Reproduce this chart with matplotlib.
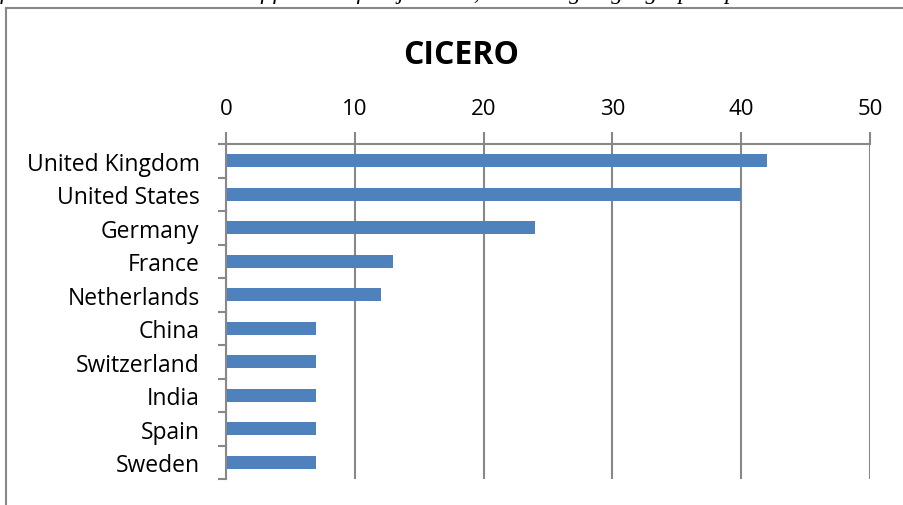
import matplotlib.pyplot as plt
import numpy as np

countries = ['United Kingdom', 'United States', 'Germany', 'France', 'Netherlands',
             'China', 'Switzerland', 'India', 'Spain', 'Sweden']
counts = [42, 40, 24, 13, 12, 7, 7, 7, 7, 7]
x_ticks = [0, 10, 20, 30, 40, 50]

W, H = 904, 506
fig = plt.figure(figsize=(W / 100, H / 100), dpi=100)
plt.rcParams['font.family'] = ['Open Sans', 'DejaVu Sans']

# caption line of the surrounding document, cut by the top edge as in the source
fig.text(0.0, 1 + 1 / H, 'for the main institutes list of factors of major data, according to geographic p',
         family='Liberation Serif', style='italic', fontsize=17, va='baseline', ha='left')

# chart frame (left and top edges visible)
fig.add_artist(plt.Line2D([6 / W, 6 / W], [0, 1 - 9 / H], color='#888888', lw=1.5))
fig.add_artist(plt.Line2D([6 / W, 1], [1 - 9 / H, 1 - 9 / H], color='#888888', lw=1.5))

ax = fig.add_axes([226 / W, 1 - 480 / H, (870 - 226) / W, (480 - 145) / H])
y = np.arange(len(countries))
ax.barh(y, counts, height=0.4, color='#4F81BD')
ax.set_ylim(len(countries) - 0.5, -0.5)
ax.set_xlim(0, 50)

ax.xaxis.tick_top()
ax.set_xticks(x_ticks)
ax.set_xticklabels([str(t) for t in x_ticks], fontsize=16)
ax.set_yticks(y)
ax.set_yticklabels(countries, fontsize=16.5)
ax.tick_params(axis='y', length=0, pad=19)
ax.tick_params(axis='x', length=9, color='#888888', width=1.5, pad=9)
ax.set_yticks(np.arange(len(countries) + 1) - 0.5, minor=True)
ax.tick_params(axis='y', which='minor', length=6, color='#888888', width=1.5)
ax.grid(axis='x', color='#888888', lw=1.5)
ax.set_axisbelow(True)

for s in ['right', 'bottom']:
    ax.spines[s].set_visible(False)
ax.spines['top'].set_color('#888888')
ax.spines['top'].set_linewidth(1.5)
ax.spines['left'].set_color('#888888')
ax.spines['left'].set_linewidth(1.5)

fig.text(461 / W, 1 - 56 / H, 'CICERO', fontsize=23, fontweight='bold', ha='center', va='center')

fig.savefig('out.png', dpi=100)
